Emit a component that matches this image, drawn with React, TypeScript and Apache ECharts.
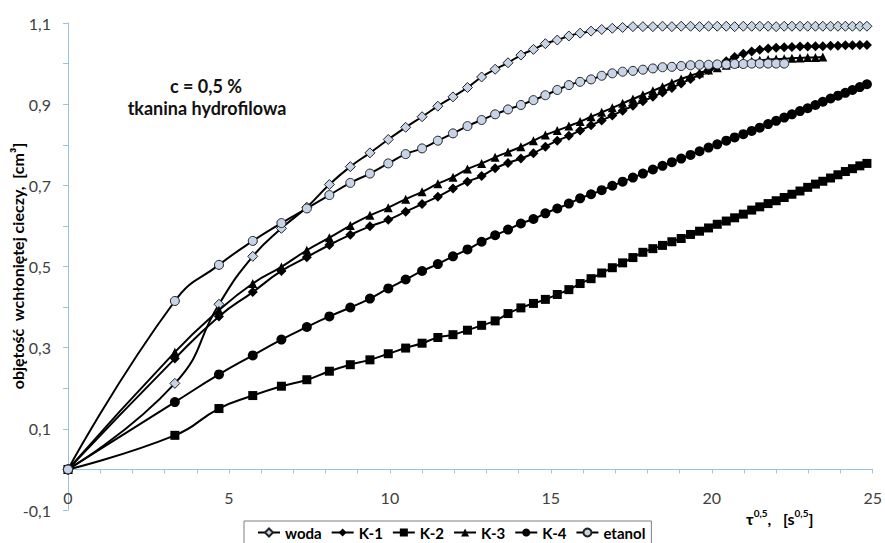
import React, { useEffect, useRef } from 'react';
import * as echarts from 'echarts';

// tau^0.5 [s^0.5] — x positions of the measurement points
const tau = [
  0, 3.32, 4.69, 5.74, 6.63, 7.42, 8.12, 8.77, 9.38, 9.95,
  10.49, 11.0, 11.49, 11.96, 12.41, 12.85, 13.27, 13.67, 14.07, 14.46,
  14.83, 15.2, 15.56, 15.91, 16.25, 16.58, 16.91, 17.23, 17.55, 17.86,
  18.17, 18.47, 18.76, 19.05, 19.34, 19.62, 19.9, 20.17, 20.45, 20.71,
  20.98, 21.24, 21.49, 21.75, 22.0, 22.25, 22.49, 22.74, 22.98, 23.22,
  23.45, 23.69, 23.92, 24.15, 24.37, 24.6, 24.82,
];

const woda = [
  0, 0.212, 0.407, 0.525, 0.594, 0.646, 0.702, 0.746, 0.78, 0.813,
  0.843, 0.869, 0.895, 0.918, 0.941, 0.967, 0.986, 1.002, 1.021, 1.035,
  1.049, 1.058, 1.068, 1.075, 1.08, 1.084, 1.087, 1.089, 1.091, 1.091,
  1.091, 1.092, 1.091, 1.092, 1.092, 1.091, 1.092, 1.092, 1.092, 1.091,
  1.092, 1.092, 1.092, 1.092, 1.091, 1.092, 1.092, 1.092, 1.092, 1.092,
  1.092, 1.092, 1.092, 1.092, 1.092, 1.092, 1.092,
];

const k1 = [
  0, 0.273, 0.377, 0.437, 0.489, 0.523, 0.553, 0.578, 0.599, 0.615,
  0.635, 0.654, 0.672, 0.692, 0.709, 0.723, 0.742, 0.755, 0.766, 0.779,
  0.795, 0.81, 0.822, 0.835, 0.848, 0.86, 0.872, 0.884, 0.896, 0.907,
  0.918, 0.929, 0.94, 0.951, 0.962, 0.973, 0.984, 0.995, 1.006, 1.016,
  1.024, 1.03, 1.034, 1.037, 1.039, 1.04, 1.041, 1.042, 1.042, 1.043,
  1.043, 1.044, 1.044, 1.045, 1.045, 1.046, 1.046,
];

const k2 = [
  0, 0.084, 0.15, 0.182, 0.205, 0.221, 0.242, 0.258, 0.27, 0.285,
  0.299, 0.311, 0.325, 0.332, 0.343, 0.355, 0.366, 0.384, 0.398, 0.409,
  0.419, 0.431, 0.443, 0.458, 0.47, 0.484, 0.497, 0.509, 0.522, 0.535,
  0.544, 0.552, 0.561, 0.569, 0.579, 0.587, 0.595, 0.604, 0.612, 0.62,
  0.629, 0.639, 0.647, 0.655, 0.662, 0.67, 0.678, 0.686, 0.695, 0.703,
  0.71, 0.718, 0.726, 0.734, 0.741, 0.748, 0.754,
];

const k3 = [
  0, 0.289, 0.392, 0.458, 0.499, 0.54, 0.571, 0.601, 0.626, 0.645,
  0.666, 0.684, 0.704, 0.72, 0.74, 0.754, 0.769, 0.782, 0.795, 0.81,
  0.824, 0.835, 0.846, 0.857, 0.869, 0.88, 0.891, 0.902, 0.913, 0.923,
  0.933, 0.943, 0.953, 0.962, 0.97, 0.977, 0.984, 0.99, 0.996, 1.0,
  1.004, 1.006, 1.008, 1.01, 1.011, 1.012, 1.013, 1.014, 1.015, 1.015,
  1.016,
];

const k4 = [
  0, 0.166, 0.234, 0.281, 0.32, 0.351, 0.377, 0.399, 0.421, 0.446,
  0.468, 0.489, 0.506, 0.525, 0.542, 0.561, 0.577, 0.591, 0.606, 0.617,
  0.631, 0.643, 0.655, 0.668, 0.678, 0.688, 0.699, 0.709, 0.719, 0.729,
  0.739, 0.748, 0.757, 0.766, 0.775, 0.784, 0.793, 0.801, 0.81, 0.818,
  0.826, 0.834, 0.842, 0.851, 0.859, 0.867, 0.875, 0.883, 0.89, 0.898,
  0.906, 0.914, 0.921, 0.928, 0.935, 0.942, 0.949,
];

const etanol = [
  0, 0.415, 0.504, 0.563, 0.607, 0.643, 0.676, 0.706, 0.729, 0.754,
  0.777, 0.791, 0.81, 0.828, 0.846, 0.861, 0.875, 0.887, 0.898, 0.91,
  0.922, 0.935, 0.947, 0.955, 0.961, 0.97, 0.976, 0.98, 0.982, 0.985,
  0.988, 0.991, 0.992, 0.994, 0.996, 0.997, 0.997, 0.998, 0.998, 0.999,
  0.999, 1.0, 1.0, 1.0, 1.0, 1.0,
];

const seriesNames = ['woda', 'K-1', 'K-2', 'K-3', 'K-4', 'etanol'];
const yTickLabels = ['-0,1', '0,1', '0,3', '0,5', '0,7', '0,9', '1,1'];
const xTickLabels = ['0', '5', '10', '15', '20', '25'];

export default function App() {
  const ref = useRef<HTMLDivElement>(null);

  useEffect(() => {
    const chart = echarts.init(ref.current!, null, { renderer: 'svg' });
    const pair = (vals: number[]) => vals.map((v, i) => [tau[i], v]);
    const axisColor = '#9cc2de';
    const lightFill = '#c7d4e8';
    const font = 'Lato, "Open Sans", "DejaVu Sans", sans-serif';
    const gridTop = 23;
    const gridBottom = 33;
    const plotH = 543 - gridTop - gridBottom;
    const zeroOffset = -(plotH * 0.1) / 1.2; // lift x axis from -0.1 to 0

    const mk = (name: string, data: number[], symbol: string, size: number, fill: string) => ({
      name,
      type: 'line',
      data: pair(data),
      smooth: 0.5,
      symbol,
      symbolSize: size,
      showAllSymbol: true,
      clip: false,
      lineStyle: { color: '#000', width: 2 },
      itemStyle: {
        color: fill,
        borderColor: '#222',
        borderWidth: fill === '#000' ? 0 : 1,
      },
      emphasis: { disabled: true },
    });

    chart.setOption({
      animation: false,
      backgroundColor: '#fff',
      grid: { left: 68, right: 9, top: gridTop, bottom: gridBottom },
      xAxis: {
        type: 'value',
        min: 0,
        max: 25,
        interval: 1,
        offset: zeroOffset,
        axisLine: { onZero: false, lineStyle: { color: axisColor, width: 1 } },
        axisTick: { show: true, length: 4, lineStyle: { color: axisColor } },
        splitLine: { show: false },
        axisLabel: {
          margin: 20,
          color: '#404040',
          fontFamily: font,
          fontSize: 16,
          formatter: (v: number) => {
            const r = Math.round(v);
            return r % 5 === 0 ? xTickLabels[r / 5] : '';
          },
        },
      },
      yAxis: {
        type: 'value',
        min: -0.1,
        max: 1.1,
        interval: 0.1,
        axisLine: { show: true, lineStyle: { color: axisColor, width: 1 } },
        axisTick: { show: true, length: 5, lineStyle: { color: axisColor } },
        splitLine: { show: false },
        axisLabel: {
          margin: 17,
          color: '#404040',
          fontFamily: font,
          fontSize: 16,
          formatter: (v: number) => {
            const n = Math.round(v * 10);
            if (Math.abs(n) % 2 === 0) return '';
            return yTickLabels[(n + 1) / 2];
          },
        },
      },
      legend: {
        data: seriesNames,
        left: 244,
        top: 521,
        orient: 'horizontal',
        itemWidth: 22,
        itemHeight: 10,
        itemGap: 9,
        padding: [4, 6, 8, 13],
        borderColor: '#7f7f7f',
        borderWidth: 1,
        borderRadius: 0,
        textStyle: { fontFamily: font, fontWeight: 'bold', fontSize: 15, color: '#000' },
      },
      graphic: [
        {
          type: 'text',
          x: 17,
          y: 266,
          rotation: Math.PI / 2,
          style: {
            text: 'objętość  wchłoniętej cieczy,  [cm³]',
            fontFamily: font,
            fontWeight: 'bold',
            fontSize: 16,
            fill: '#000',
            align: 'center',
            verticalAlign: 'middle',
          },
        },
        {
          type: 'text',
          x: 206,
          y: 86,
          style: {
            text: 'c = 0,5 %',
            fontFamily: font,
            fontWeight: 'bold',
            fontSize: 18,
            fill: '#111',
            align: 'center',
            verticalAlign: 'middle',
          },
        },
        {
          type: 'text',
          x: 207,
          y: 108,
          style: {
            text: 'tkanina hydrofilowa',
            fontFamily: font,
            fontWeight: 'bold',
            fontSize: 18,
            fill: '#111',
            align: 'center',
            verticalAlign: 'middle',
          },
        },
        {
          type: 'text',
          x: 746,
          y: 518,
          style: {
            text: '{m|τ}{s|0,5}{m|,   [s}{s|0,5}{m|]}',
            verticalAlign: 'middle',
            rich: {
              m: { fontFamily: font, fontWeight: 'bold', fontSize: 16, fill: '#000', lineHeight: 20 },
              s: { fontFamily: font, fontWeight: 'bold', fontSize: 10, fill: '#000', verticalAlign: 'top', lineHeight: 11 },
            },
          },
        },
      ],
      series: [
        mk('woda', woda, 'diamond', 10, lightFill),
        mk('K-1', k1, 'diamond', 10, '#000'),
        mk('K-2', k2, 'rect', 9, '#000'),
        mk('K-3', k3, 'triangle', 9, '#000'),
        mk('K-4', k4, 'circle', 10, '#000'),
        mk('etanol', etanol, 'circle', 9, lightFill),
      ],
    });

    return () => chart.dispose();
  }, []);

  return (
    <div
      ref={ref}
      style={{ position: 'fixed', left: 0, top: 0, width: 885, height: 543, background: '#fff' }}
    />
  );
}
